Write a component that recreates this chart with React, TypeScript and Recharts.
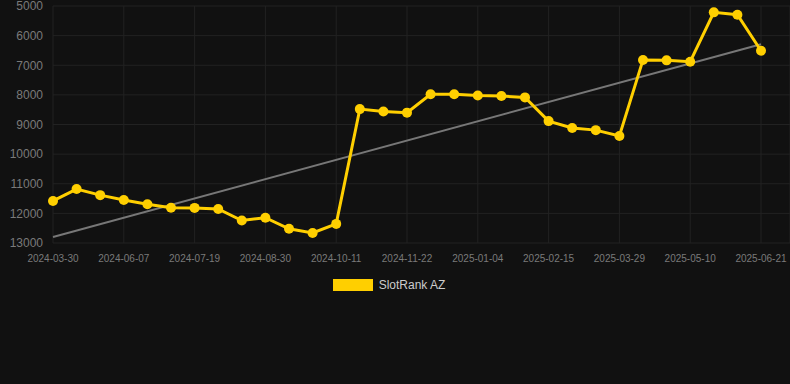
import React from "react";
import { LineChart, Line, XAxis, YAxis, CartesianGrid, Legend } from "recharts";

const dates = [
  "2024-03-30", "2024-05-10", "2024-05-24", "2024-06-07", "2024-06-21", "2024-07-05",
  "2024-07-19", "2024-08-02", "2024-08-16", "2024-08-30", "2024-09-13", "2024-09-27",
  "2024-10-11", "2024-10-25", "2024-11-08", "2024-11-22", "2024-12-06", "2024-12-20",
  "2025-01-04", "2025-01-18", "2025-02-01", "2025-02-15", "2025-03-01", "2025-03-15",
  "2025-03-29", "2025-04-12", "2025-04-26", "2025-05-10", "2025-05-24", "2025-06-07",
  "2025-06-21",
];

const slotRank = [
  11580, 11180, 11385, 11550, 11690, 11810, 11815, 11850, 12240, 12145,
  12520, 12660, 12355, 8480, 8560, 8600, 7980, 7980, 8020, 8040,
  8085, 8885, 9120, 9190, 9390, 6820, 6835, 6880, 5215, 5295,
  6510,
];

const trendStart = 12795;
const trendEnd = 6290;

const yTicks = [5000, 6000, 7000, 8000, 9000, 10000, 11000, 12000, 13000];

const data = dates.map((d, i) => ({
  date: d,
  rank: slotRank[i],
  trend: i === 0 ? trendStart : i === dates.length - 1 ? trendEnd : null,
}));

const FONT = "'Liberation Sans', Arial, Helvetica, sans-serif";
const YELLOW = "#ffcf00";

const LegendContent = () => (
  <div
    style={{
      height: 24,
      display: "flex",
      alignItems: "center",
      justifyContent: "center",
      fontFamily: FONT,
      fontSize: 12,
      color: "#cccccc",
      paddingRight: 12,
    }}
  >
    <span
      style={{
        display: "inline-block",
        width: 40,
        height: 12,
        background: YELLOW,
        marginRight: 6,
      }}
    />
    <span>SlotRank AZ</span>
  </div>
);

export default function App() {
  return (
    <div
      style={{
        position: "absolute",
        top: 0,
        left: 0,
        width: 790,
        height: 384,
        background: "#111111",
      }}
    >
      <LineChart
        width={790}
        height={384}
        data={data}
        margin={{ top: 6, right: 0, left: 0, bottom: 87 }}
      >
        <CartesianGrid stroke="#222222" strokeWidth={1} />
        <XAxis
          dataKey="date"
          interval={2}
          padding={{ left: 0, right: 29 }}
          tick={{ fill: "#7a7a7a", fontSize: 10, fontFamily: FONT }}
          tickLine={false}
          axisLine={false}
          tickMargin={6}
          height={30}
        />
        <YAxis
          reversed
          domain={[5000, 13000]}
          ticks={yTicks}
          interval={0}
          width={53}
          tick={{ fill: "#7a7a7a", fontSize: 12, fontFamily: FONT }}
          tickLine={false}
          axisLine={false}
          tickMargin={4}
          allowDataOverflow
        />
        <Legend verticalAlign="bottom" content={<LegendContent />} />
        <Line
          dataKey="trend"
          stroke="#777777"
          strokeWidth={2}
          dot={false}
          activeDot={false}
          connectNulls
          isAnimationActive={false}
          legendType="none"
        />
        <Line
          dataKey="rank"
          name="SlotRank AZ"
          stroke={YELLOW}
          strokeWidth={3}
          dot={{ r: 5, fill: YELLOW, stroke: YELLOW, strokeWidth: 0 }}
          activeDot={false}
          isAnimationActive={false}
        />
      </LineChart>
    </div>
  );
}
